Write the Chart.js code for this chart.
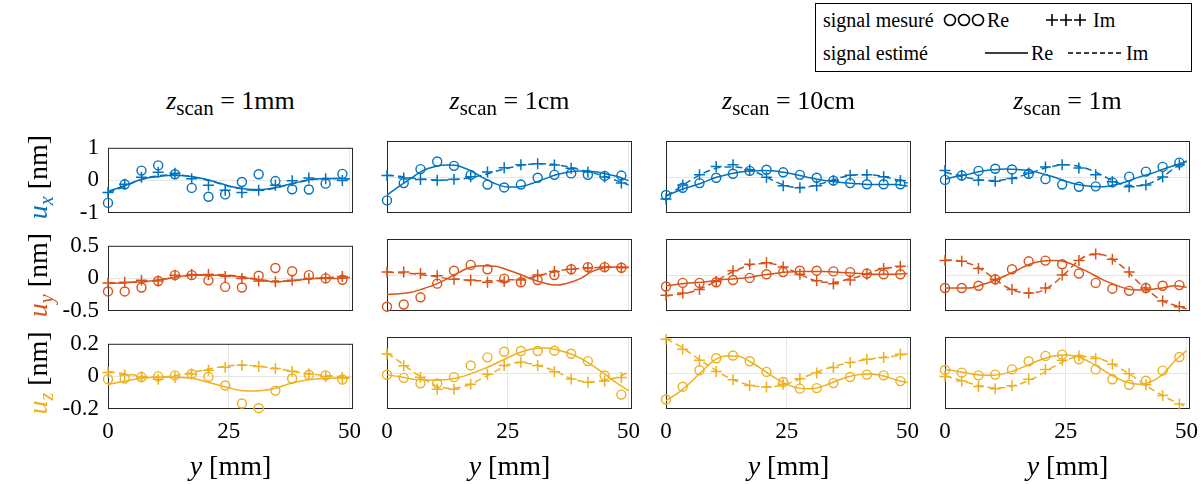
<!DOCTYPE html>
<html>
<head>
<meta charset="utf-8">
<script src="https://cdn.jsdelivr.net/npm/chart.js@4.4.0/dist/chart.umd.min.js"></script>
<style>
body { margin: 0; background: #fff; }
#fig { position: relative; width: 1202px; height: 484px; overflow: hidden;
       font-family: "Liberation Serif", "Times New Roman", serif; color: #000; }
#fig canvas { position: absolute; }
.lbl { position: absolute; white-space: nowrap; }
</style>
</head>
<body>
<div id="fig"></div>
<script>
// positions y (mm) of the measured samples and of the estimated curves
const xMeas = [0, 3.46, 6.93, 10.39, 13.86, 17.32, 20.79, 24.25, 27.71, 31.18, 34.64, 38.11, 41.57, 45.04, 48.5];
const xEst = [0, 2.5, 5, 7.5, 10, 12.5, 15, 17.5, 20, 22.5, 25, 27.5, 30, 32.5, 35, 37.5, 40, 42.5, 45, 47.5, 50];

const colTitles = ["1mm", "1cm", "10cm", "1m"];
const xTicks = [0, 25, 50];
const yTicksUx = [-1, 0, 1];
const yTicksUy = [-0.5, 0, 0.5];
const yTicksUz = [-0.2, 0, 0.2];

// u_x : one list per column (1mm, 1cm, 10cm, 1m)
const uxReMeas = [
  [-0.69, -0.12, 0.30, 0.46, 0.19, -0.23, -0.50, -0.43, -0.05, 0.19, -0.02, -0.27, -0.28, -0.10, 0.20],
  [-0.65, -0.17, 0.22, 0.43, 0.31, 0.06, -0.21, -0.29, -0.21, -0.02, 0.06, 0.10, 0.06, 0.03, 0.04],
  [-0.50, -0.30, -0.17, -0.02, 0.09, 0.17, 0.20, 0.13, 0.06, -0.02, -0.10, -0.17, -0.20, -0.20, -0.20],
  [-0.08, 0.04, 0.17, 0.23, 0.21, 0.09, -0.06, -0.21, -0.27, -0.26, -0.15, 0.01, 0.15, 0.28, 0.40]
];
const uxImMeas = [
  [-0.37, -0.12, 0.10, 0.25, 0.22, 0.05, -0.15, -0.30, -0.37, -0.30, -0.15, -0.01, 0.07, 0.05, 0.0],
  [0.04, -0.03, -0.07, -0.09, -0.06, 0.01, 0.14, 0.26, 0.34, 0.37, 0.33, 0.24, 0.14, 0.0, -0.17],
  [-0.61, -0.22, 0.06, 0.29, 0.34, 0.20, -0.01, -0.24, -0.30, -0.24, -0.10, 0.05, 0.06, 0.01, -0.10],
  [0.18, 0.05, -0.09, -0.12, -0.04, 0.11, 0.28, 0.34, 0.25, 0.06, -0.13, -0.27, -0.22, 0.0, 0.34]
];
const uxReEst = [
  [-0.33, -0.21, -0.07, 0.05, 0.11, 0.15, 0.15, 0.11, 0.04, -0.06, -0.17, -0.24, -0.28, -0.27, -0.21, -0.12, -0.03, 0.04, 0.06, 0.06, 0.05],
  [-0.50, -0.26, -0.03, 0.18, 0.29, 0.33, 0.30, 0.16, -0.03, -0.19, -0.28, -0.27, -0.18, -0.06, 0.06, 0.14, 0.17, 0.15, 0.10, 0.02, -0.10],
  [-0.53, -0.38, -0.27, -0.16, -0.03, 0.06, 0.13, 0.17, 0.18, 0.17, 0.12, 0.05, -0.03, -0.09, -0.13, -0.17, -0.19, -0.21, -0.21, -0.21, -0.25],
  [-0.06, 0.02, 0.08, 0.16, 0.20, 0.22, 0.21, 0.17, 0.10, 0.0, -0.12, -0.21, -0.26, -0.27, -0.22, -0.13, -0.01, 0.09, 0.21, 0.32, 0.43]
];
const uxImEst = [
  [-0.38, -0.24, -0.08, 0.06, 0.13, 0.17, 0.16, 0.11, 0.03, -0.07, -0.18, -0.26, -0.30, -0.29, -0.22, -0.13, -0.04, 0.03, 0.06, 0.06, 0.05],
  [0.05, 0.02, -0.03, -0.06, -0.08, -0.08, -0.06, -0.01, 0.06, 0.16, 0.24, 0.32, 0.36, 0.37, 0.34, 0.28, 0.20, 0.12, 0.02, -0.10, -0.22],
  [-0.53, -0.32, -0.10, 0.09, 0.23, 0.28, 0.27, 0.19, 0.05, -0.12, -0.25, -0.29, -0.26, -0.17, -0.06, 0.03, 0.06, 0.06, 0.01, -0.07, -0.17],
  [0.13, 0.05, -0.03, -0.08, -0.10, -0.07, 0.0, 0.10, 0.22, 0.30, 0.34, 0.30, 0.20, 0.05, -0.12, -0.23, -0.24, -0.17, 0.0, 0.25, 0.45]
];

// u_y
const uyReMeas = [
  [-0.20, -0.20, -0.14, -0.04, 0.05, 0.05, -0.03, -0.13, -0.14, 0.04, 0.16, 0.11, 0.05, 0.0, -0.02],
  [-0.44, -0.41, -0.31, -0.12, 0.06, 0.14, 0.08, -0.05, -0.10, -0.07, 0.0, 0.08, 0.11, 0.11, 0.10],
  [-0.16, -0.11, -0.11, -0.10, -0.07, -0.04, 0.01, 0.04, 0.06, 0.06, 0.05, 0.04, 0.02, 0.01, 0.01],
  [-0.18, -0.18, -0.15, -0.06, 0.08, 0.19, 0.20, 0.15, 0.02, -0.11, -0.19, -0.22, -0.18, -0.15, -0.14]
];
const uyImMeas = [
  [-0.07, -0.06, -0.03, -0.04, 0.05, 0.06, 0.06, 0.03, 0.0, -0.04, -0.05, -0.03, 0.0, 0.01, 0.03],
  [0.04, 0.04, 0.02, -0.01, -0.06, -0.07, -0.10, -0.09, -0.07, 0.0, 0.05, 0.08, 0.10, 0.11, 0.10],
  [-0.28, -0.25, -0.20, -0.09, 0.06, 0.15, 0.17, 0.11, 0.01, -0.08, -0.12, -0.07, 0.01, 0.09, 0.12],
  [0.20, 0.19, 0.09, -0.06, -0.20, -0.25, -0.18, 0.0, 0.20, 0.29, 0.22, 0.04, -0.18, -0.36, -0.44]
];
const uyReEst = [
  [-0.08, -0.07, -0.06, -0.05, -0.03, 0.0, 0.03, 0.05, 0.05, 0.05, 0.04, 0.02, -0.01, -0.04, -0.05, -0.04, -0.02, 0.0, 0.0, 0.0, 0.01],
  [-0.27, -0.26, -0.24, -0.19, -0.13, -0.05, 0.04, 0.11, 0.13, 0.12, 0.07, 0.01, -0.06, -0.11, -0.14, -0.11, -0.05, 0.05, 0.10, 0.11, 0.11],
  [-0.15, -0.13, -0.11, -0.10, -0.08, -0.06, -0.05, -0.03, 0.0, 0.02, 0.04, 0.05, 0.05, 0.05, 0.04, 0.03, 0.02, 0.01, 0.01, 0.01, 0.02],
  [-0.18, -0.18, -0.18, -0.14, -0.08, -0.01, 0.07, 0.15, 0.19, 0.20, 0.18, 0.11, 0.03, -0.06, -0.13, -0.19, -0.21, -0.20, -0.18, -0.15, -0.17]
];
const uyImEst = [
  [-0.07, -0.07, -0.06, -0.05, -0.03, 0.0, 0.03, 0.05, 0.06, 0.06, 0.05, 0.03, 0.0, -0.03, -0.04, -0.04, -0.02, 0.0, 0.01, 0.02, 0.02],
  [0.04, 0.03, 0.02, 0.0, -0.02, -0.05, -0.06, -0.08, -0.08, -0.08, -0.07, -0.06, -0.03, 0.01, 0.05, 0.08, 0.09, 0.10, 0.11, 0.11, 0.10],
  [-0.29, -0.27, -0.24, -0.18, -0.10, 0.0, 0.08, 0.14, 0.16, 0.15, 0.09, 0.02, -0.06, -0.10, -0.10, -0.06, -0.02, 0.04, 0.09, 0.11, 0.12],
  [0.21, 0.20, 0.16, 0.08, -0.04, -0.16, -0.23, -0.25, -0.22, -0.12, 0.03, 0.19, 0.28, 0.28, 0.20, 0.07, -0.10, -0.24, -0.36, -0.42, -0.47]
];

// u_z
const uzReMeas = [
  [-0.017, -0.013, -0.004, 0.0, 0.006, 0.015, -0.002, -0.056, -0.166, -0.195, -0.087, -0.013, 0.009, 0.006, -0.019],
  [-0.01, -0.027, -0.057, -0.058, -0.023, 0.042, 0.087, 0.118, 0.122, 0.122, 0.124, 0.107, 0.066, -0.014, -0.12],
  [-0.147, -0.076, 0.015, 0.082, 0.097, 0.065, 0.006, -0.05, -0.087, -0.084, -0.056, -0.022, -0.009, -0.013, -0.045],
  [0.017, 0.002, -0.013, -0.009, 0.02, 0.065, 0.095, 0.102, 0.076, 0.02, -0.035, -0.065, -0.043, 0.013, 0.089]
];
const uzImMeas = [
  [0.024, 0.009, -0.004, -0.017, -0.007, 0.015, 0.037, 0.056, 0.069, 0.061, 0.048, 0.032, 0.017, 0.0, -0.007],
  [0.105, 0.04, -0.023, -0.09, -0.09, -0.062, -0.007, 0.042, 0.06, 0.042, 0.007, -0.033, -0.051, -0.044, -0.025],
  [0.188, 0.132, 0.071, 0.009, -0.037, -0.069, -0.078, -0.063, -0.032, 0.0, 0.03, 0.058, 0.076, 0.086, 0.104],
  [-0.02, -0.045, -0.075, -0.087, -0.071, -0.035, 0.02, 0.071, 0.095, 0.08, 0.048, -0.004, -0.065, -0.125, -0.172]
];
const uzReEst = [
  [-0.05, -0.035, -0.02, -0.01, -0.005, -0.004, -0.006, -0.012, -0.03, -0.05, -0.07, -0.087, -0.09, -0.085, -0.07, -0.045, -0.028, -0.018, -0.012, -0.01, -0.012],
  [-0.01, -0.02, -0.033, -0.038, -0.04, -0.036, -0.025, -0.003, 0.023, 0.053, 0.085, 0.114, 0.133, 0.139, 0.131, 0.111, 0.083, 0.042, -0.005, -0.055, -0.098],
  [-0.153, -0.11, -0.054, 0.011, 0.071, 0.095, 0.093, 0.061, 0.019, -0.026, -0.063, -0.084, -0.087, -0.073, -0.047, -0.022, -0.009, -0.006, -0.017, -0.037, -0.054],
  [0.02, 0.01, -0.003, -0.012, -0.012, -0.002, 0.02, 0.048, 0.075, 0.094, 0.1, 0.09, 0.06, 0.02, -0.02, -0.05, -0.063, -0.05, -0.01, 0.065, 0.125]
];
const uzImEst = [
  [0.03, 0.02, 0.01, 0.0, -0.005, 0.0, 0.01, 0.025, 0.04, 0.055, 0.065, 0.07, 0.066, 0.058, 0.048, 0.035, 0.022, 0.012, 0.005, 0.0, -0.005],
  [0.11, 0.065, 0.015, -0.03, -0.07, -0.085, -0.08, -0.06, -0.025, 0.01, 0.045, 0.058, 0.05, 0.032, 0.01, -0.025, -0.045, -0.05, -0.04, -0.025, 0.005],
  [0.19, 0.155, 0.11, 0.065, 0.02, -0.02, -0.05, -0.068, -0.077, -0.075, -0.06, -0.035, -0.008, 0.018, 0.038, 0.055, 0.068, 0.078, 0.087, 0.095, 0.105],
  [-0.015, -0.035, -0.055, -0.072, -0.082, -0.08, -0.065, -0.04, -0.005, 0.035, 0.07, 0.09, 0.092, 0.075, 0.045, 0.005, -0.04, -0.085, -0.125, -0.16, -0.19]
];

const rows = [
  { sub: "x", color: "#0072BD", lim: 1, ticks: yTicksUx, reM: uxReMeas, imM: uxImMeas, reE: uxReEst, imE: uxImEst },
  { sub: "y", color: "#D95319", lim: 0.5, ticks: yTicksUy, reM: uyReMeas, imM: uyImMeas, reE: uyReEst, imE: uyImEst },
  { sub: "z", color: "#EDB120", lim: 0.2, ticks: yTicksUz, reM: uzReMeas, imM: uzImMeas, reE: uzReEst, imE: uzImEst }
];

// layout of the figure (pixels)
const colLeft = [108, 387, 666, 945];
const rowTop = [141, 239, 337];
const plotW = 245, plotH = 72;
const padL = 60, padT = 16, padR = 22, padB = 40;
const axisColor = "#262626";
const gridColor = "#e6e6e6";
const serif = "'Liberation Serif', 'Times New Roman', serif";

Chart.defaults.font.family = serif;

const fig = document.getElementById("fig");

function pts(xs, ys) {
  return xs.map((x, i) => ({ x: x, y: ys[i] }));
}

const boxPlugin = {
  id: "box",
  beforeDatasetsDraw(chart) {
    const a = chart.chartArea;
    const c = chart.ctx;
    c.save();
    c.strokeStyle = axisColor;
    c.lineWidth = 1;
    c.strokeRect(a.left + 0.5, a.top + 0.5, a.right - a.left - 1, a.bottom - a.top - 1);
    c.restore();
  }
};

function makeChart(r, c) {
  const row = rows[r];
  const cv = document.createElement("canvas");
  const w = plotW + padL + padR, h = plotH + padT + padB;
  cv.width = w; cv.height = h;
  cv.style.left = (colLeft[c] - padL) + "px";
  cv.style.top = (rowTop[r] - padT) + "px";
  cv.style.width = w + "px"; cv.style.height = h + "px";
  fig.appendChild(cv);

  const lineBase = { showLine: true, pointRadius: 0, borderColor: row.color, borderWidth: 1.5,
                     cubicInterpolationMode: "monotone" };
  new Chart(cv, {
    type: "scatter",
    data: {
      datasets: [
        Object.assign({ data: pts(xEst, row.reE[c]) }, lineBase),
        Object.assign({ data: pts(xEst, row.imE[c]), borderDash: [7, 4] }, lineBase),
        { data: pts(xMeas, row.reM[c]), pointStyle: "circle", pointRadius: 4.5, pointBorderWidth: 1.4,
          pointBorderColor: row.color, pointBackgroundColor: "rgba(0,0,0,0)", clip: false },
        { data: pts(xMeas, row.imM[c]), pointStyle: "cross", pointRadius: 5.5, pointBorderWidth: 1.5,
          pointBorderColor: row.color, clip: false }
      ]
    },
    options: {
      responsive: false,
      animation: false,
      events: [],
      layout: { autoPadding: false, padding: { left: 0, top: padT, right: padR, bottom: 0 } },
      plugins: { legend: { display: false }, tooltip: { enabled: false } },
      scales: {
        x: {
          type: "linear", min: 0, max: 50.7,
          afterBuildTicks: (s) => { s.ticks = xTicks.map((v) => ({ value: v })); },
          afterFit: (s) => { s.height = padB; },
          border: { display: false },
          grid: { drawTicks: false,
                  color: (ctx) => (r === 2 && ctx.tick && ctx.tick.value > 0) || (ctx.tick && ctx.tick.value === 50) ? gridColor : "rgba(0,0,0,0)" },
          ticks: { display: r === 2, autoSkip: false, maxRotation: 0, padding: 9, color: "#000",
                   font: { family: serif, size: 23 }, callback: (v) => String(v) }
        },
        y: {
          type: "linear", min: -row.lim, max: row.lim,
          afterBuildTicks: (s) => { s.ticks = row.ticks.map((v) => ({ value: v })); },
          afterFit: (s) => { s.width = padL; },
          border: { display: false },
          grid: { drawTicks: false,
                  color: (ctx) => ctx.tick && ctx.tick.value === 0 ? gridColor : "rgba(0,0,0,0)" },
          ticks: { display: c === 0, autoSkip: false, padding: 9, color: "#000",
                   font: { family: serif, size: 23 }, callback: (v) => String(v) }
        }
      }
    },
    plugins: [boxPlugin]
  });
}

for (let r = 0; r < 3; r++) {
  for (let c = 0; c < 4; c++) makeChart(r, c);
}

function addLabel(html, css) {
  const d = document.createElement("div");
  d.className = "lbl";
  d.innerHTML = html;
  Object.assign(d.style, css);
  fig.appendChild(d);
  return d;
}

// column titles and x labels
colTitles.forEach((t, c) => {
  addLabel('<i>z</i><sub style="font-size:21px;vertical-align:-6px">scan</sub> = ' + t,
    { left: colLeft[c] + "px", width: plotW + "px", textAlign: "center", top: "86px", fontSize: "26px", lineHeight: "30px" });
  addLabel("<i>y</i> [mm]",
    { left: colLeft[c] + "px", width: plotW + "px", textAlign: "center", top: "450px", fontSize: "28px", lineHeight: "32px" });
});

// y labels (rotated)
rows.forEach((row, r) => {
  addLabel('<span style="color:' + row.color + '"><i>u<sub style="font-size:20px;vertical-align:-6px">' + row.sub +
    '</sub></i></span> [nm]',
    { left: "42px", top: (rowTop[r] + plotH / 2) + "px", fontSize: "28px", lineHeight: "32px",
      transform: "translate(-50%, -50%) rotate(-90deg)" });
});

// legend box
const lgFont = { fontSize: "20px", lineHeight: "24px" };
addLabel("", { left: "815px", top: "3px", width: "377px", height: "69px", border: "1px solid #000",
               boxSizing: "border-box", background: "#fff" });
addLabel("signal mesuré", Object.assign({ left: "823px", top: "8px" }, lgFont));
addLabel("signal estimé", Object.assign({ left: "823px", top: "41px" }, lgFont));
addLabel("Re", Object.assign({ left: "987px", top: "8px" }, lgFont));
addLabel("Im", Object.assign({ left: "1093px", top: "8px" }, lgFont));
addLabel("Re", Object.assign({ left: "1031px", top: "41px" }, lgFont));
addLabel("Im", Object.assign({ left: "1126px", top: "41px" }, lgFont));
addLabel('<svg width="200" height="64" xmlns="http://www.w3.org/2000/svg">' +
  '<g fill="none" stroke="#000" stroke-width="1.6">' +
  '<circle cx="10" cy="12" r="5.5"/><circle cx="24" cy="12" r="5.5"/><circle cx="38" cy="12" r="5.5"/>' +
  '<path d="M106 12h12M112 6v12M120 12h12M126 6v12M134 12h12M140 6v12"/>' +
  '<path d="M45 45h43"/>' +
  '<path d="M128 45h54" stroke-dasharray="5 3"/>' +
  '</g></svg>', { left: "940px", top: "8px" });
</script>
</body>
</html>
